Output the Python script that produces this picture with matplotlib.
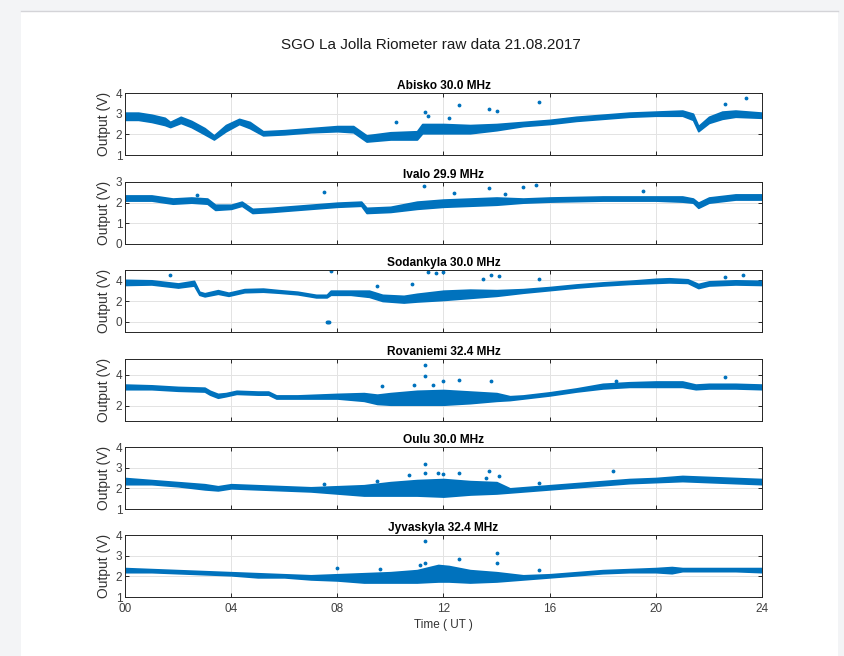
import matplotlib
matplotlib.use('agg')
import matplotlib.pyplot as plt
from matplotlib.patches import Rectangle
from matplotlib.lines import Line2D

plt.rcParams['font.family'] = ['Liberation Sans', 'DejaVu Sans']

BLUE = '#0072BD'

# station names / ylims / yticks
stations = ['Abisko 30.0 MHz', 'Ivalo 29.9 MHz', 'Sodankyla 30.0 MHz',
            'Rovaniemi 32.4 MHz', 'Oulu 30.0 MHz', 'Jyvaskyla 32.4 MHz']
ylims = [(1, 4), (0, 3), (-1, 5), (1, 5), (1, 4), (1, 4)]
yticks = [[1, 2, 3, 4], [0, 1, 2, 3], [0, 2, 4], [2, 4], [1, 2, 3, 4], [1, 2, 3, 4]]
xtick_hours = [0, 4, 8, 12, 16, 20, 24]
xtick_labels = ['00', '04', '08', '12', '16', '20', '24']

# envelope of the raw data (time in UT hours, lower / upper output in V)
abisko_t = [0, 0.5, 1, 1.5, 1.7, 2.1, 2.5, 3.0, 3.35, 3.8, 4.3, 4.7, 5.2, 6, 7, 8, 8.6, 9.1,
            10, 11, 11.2, 12, 13, 14, 15, 16, 17, 18, 19, 20, 21, 21.4, 21.6, 22, 22.5, 23, 24]
abisko_lo = [2.7, 2.7, 2.6, 2.45, 2.35, 2.55, 2.35, 2.0, 1.75, 2.15, 2.5, 2.3, 1.95, 2.0, 2.1, 2.15,
             2.1, 1.65, 1.75, 1.75, 2.05, 2.05, 2.05, 2.2, 2.4, 2.5, 2.65, 2.75, 2.85, 2.9, 2.9,
             2.7, 2.15, 2.55, 2.75, 2.85, 2.8]
abisko_hi = [3.05, 3.05, 2.95, 2.8, 2.6, 2.85, 2.65, 2.3, 1.95, 2.45, 2.75, 2.6, 2.15, 2.2, 2.3, 2.4,
             2.4, 1.95, 2.1, 2.15, 2.5, 2.5, 2.45, 2.5, 2.6, 2.7, 2.85, 2.95, 3.05, 3.1, 3.15,
             3.0, 2.4, 2.85, 3.1, 3.15, 3.05]

ivalo_t = [0, 1, 1.8, 2.5, 3.1, 3.4, 4, 4.4, 4.8, 5.5, 6.5, 8, 8.9, 9.1, 10, 11, 12, 13, 14,
           15, 16, 18, 20, 21, 21.4, 21.6, 22, 23, 24]
ivalo_lo = [2.1, 2.1, 1.95, 2.0, 1.95, 1.65, 1.7, 1.85, 1.5, 1.55, 1.65, 1.8, 1.85, 1.5, 1.55,
            1.7, 1.8, 1.85, 1.9, 2.0, 2.05, 2.1, 2.1, 2.05, 2.0, 1.75, 2.0, 2.15, 2.15]
ivalo_hi = [2.35, 2.35, 2.2, 2.25, 2.2, 1.9, 1.9, 2.05, 1.7, 1.75, 1.85, 2.0, 2.05, 1.75, 1.8,
            2.05, 2.15, 2.2, 2.25, 2.2, 2.25, 2.3, 2.3, 2.3, 2.2, 2.0, 2.25, 2.4, 2.4]

sodankyla_t = [0, 1, 2, 2.6, 2.8, 3.0, 3.5, 3.9, 4.5, 5.2, 5.8, 6.5, 7.2, 7.6, 7.75, 8.5, 9.2,
               9.7, 10.5, 11, 12, 13, 14, 15, 16, 17, 18, 19, 20, 20.5, 21.2, 21.6, 22, 23, 24]
sodankyla_lo = [3.55, 3.6, 3.3, 3.5, 2.6, 2.45, 2.7, 2.5, 2.85, 2.9, 2.8, 2.65, 2.35, 2.35, 2.6,
                2.6, 2.4, 2.0, 1.85, 1.95, 2.1, 2.3, 2.5, 2.8, 3.05, 3.3, 3.5, 3.65, 3.75, 3.8,
                3.75, 3.25, 3.5, 3.6, 3.55]
sodankyla_hi = [4.05, 4.0, 3.7, 3.95, 2.9, 2.75, 3.05, 2.8, 3.15, 3.2, 3.05, 2.9, 2.6, 2.6, 3.0,
                3.0, 3.0, 2.6, 2.5, 2.7, 3.0, 3.1, 3.05, 3.15, 3.35, 3.6, 3.8, 3.95, 4.15, 4.2,
                4.1, 3.65, 3.9, 4.0, 3.95]

rovaniemi_t = [0, 1, 2, 3, 3.2, 3.5, 3.8, 4.2, 5, 5.4, 5.7, 6.5, 8, 9, 9.5, 10, 11, 12, 13, 14,
               14.5, 15, 16, 17, 18, 19, 20, 21, 21.5, 22, 23, 24]
rovaniemi_lo = [3.05, 3.05, 2.95, 2.9, 2.7, 2.5, 2.6, 2.75, 2.7, 2.7, 2.45, 2.45, 2.45, 2.3, 2.1,
                2.05, 2.05, 2.05, 2.15, 2.3, 2.35, 2.45, 2.65, 2.9, 3.1, 3.2, 3.2, 3.2, 3.05,
                3.1, 3.1, 3.05]
rovaniemi_hi = [3.35, 3.3, 3.2, 3.15, 2.95, 2.75, 2.8, 2.95, 2.9, 2.9, 2.65, 2.65, 2.75, 2.8, 2.7,
                2.8, 2.95, 3.0, 2.9, 2.8, 2.6, 2.65, 2.85, 3.1, 3.4, 3.5, 3.55, 3.55, 3.35,
                3.4, 3.4, 3.35]

oulu_t = [0, 1, 2, 3, 3.5, 4, 5, 6, 7, 8, 9, 10, 11, 12, 13, 14, 14.5, 15, 16, 17, 18, 19, 20,
          21, 22, 23, 24]
oulu_lo = [2.2, 2.2, 2.1, 1.95, 1.9, 2.0, 1.95, 1.9, 1.85, 1.75, 1.65, 1.65, 1.65, 1.6, 1.7,
           1.75, 1.8, 1.85, 1.95, 2.05, 2.15, 2.25, 2.3, 2.35, 2.3, 2.25, 2.2]
oulu_hi = [2.5, 2.4, 2.3, 2.2, 2.1, 2.2, 2.15, 2.1, 2.05, 2.1, 2.15, 2.3, 2.4, 2.45, 2.35, 2.3,
           2.0, 2.05, 2.15, 2.25, 2.35, 2.45, 2.5, 2.6, 2.55, 2.5, 2.45]

jyvaskyla_t = [0, 1, 2, 3, 4, 5, 6, 7, 8, 9, 10, 11, 11.8, 12.2, 13, 14, 15, 16, 17, 18, 19,
               20, 20.6, 21, 22, 23, 24]
jyvaskyla_lo = [2.2, 2.2, 2.15, 2.1, 2.05, 1.95, 1.95, 1.85, 1.8, 1.7, 1.7, 1.7, 1.75, 1.75,
                1.7, 1.75, 1.85, 1.95, 2.05, 2.15, 2.2, 2.2, 2.15, 2.25, 2.25, 2.25, 2.2]
jyvaskyla_hi = [2.4, 2.35, 2.3, 2.25, 2.2, 2.15, 2.1, 2.05, 2.1, 2.15, 2.2, 2.3, 2.55, 2.5,
                2.3, 2.2, 2.05, 2.1, 2.2, 2.3, 2.35, 2.4, 2.45, 2.4, 2.4, 2.4, 2.4]

# isolated spikes (time, value)
abisko_sp_t = [11.3, 11.4, 12.6, 13.7, 14.0, 15.6, 22.6, 23.4, 10.2, 12.2]
abisko_sp_v = [3.1, 2.9, 3.4, 3.25, 3.15, 3.55, 3.45, 3.75, 2.6, 2.8]
ivalo_sp_t = [2.7, 7.5, 11.25, 13.7, 15.0, 15.5, 19.5, 12.4, 14.3]
ivalo_sp_v = [2.35, 2.5, 2.8, 2.7, 2.75, 2.85, 2.55, 2.45, 2.4]
sodankyla_sp_t = [1.7, 7.75, 11.4, 11.7, 12.0, 13.5, 13.8, 14.1, 15.6, 22.6, 23.3,
                  7.6, 7.65, 7.7, 9.5, 10.8]
sodankyla_sp_v = [4.5, 4.9, 4.85, 4.7, 4.8, 4.1, 4.5, 4.4, 4.1, 4.3, 4.5,
                  0.0, 0.0, 0.0, 3.5, 3.6]
rovaniemi_sp_t = [9.7, 10.9, 11.3, 11.3, 12.0, 12.6, 13.8, 18.5, 22.6, 11.6]
rovaniemi_sp_v = [3.25, 3.3, 4.6, 3.9, 3.55, 3.65, 3.55, 3.6, 3.85, 3.35]
oulu_sp_t = [7.5, 9.5, 10.7, 11.3, 11.3, 11.8, 12.0, 12.6, 13.6, 13.7, 14.1, 15.6, 18.4]
oulu_sp_v = [2.2, 2.35, 2.65, 3.2, 2.75, 2.75, 2.7, 2.75, 2.5, 2.85, 2.6, 2.25, 2.85]
jyvaskyla_sp_t = [8.0, 11.1, 11.3, 11.3, 12.6, 14.0, 14.0, 15.6, 9.6]
jyvaskyla_sp_v = [2.4, 2.55, 3.7, 2.65, 2.85, 3.15, 2.65, 2.3, 2.35]

data = [
    (abisko_t, abisko_lo, abisko_hi, abisko_sp_t, abisko_sp_v),
    (ivalo_t, ivalo_lo, ivalo_hi, ivalo_sp_t, ivalo_sp_v),
    (sodankyla_t, sodankyla_lo, sodankyla_hi, sodankyla_sp_t, sodankyla_sp_v),
    (rovaniemi_t, rovaniemi_lo, rovaniemi_hi, rovaniemi_sp_t, rovaniemi_sp_v),
    (oulu_t, oulu_lo, oulu_hi, oulu_sp_t, oulu_sp_v),
    (jyvaskyla_t, jyvaskyla_lo, jyvaskyla_hi, jyvaskyla_sp_t, jyvaskyla_sp_v),
]

W, H = 845, 656
fig = plt.figure(figsize=(W / 100, H / 100), dpi=100, facecolor='#f3f4f6')

# white page on light grey background (drawn under the axes)
fig.patches.append(Rectangle((21 / W, 0), (838 - 21) / W, 1 - 11 / H, transform=fig.transFigure,
                             facecolor='white', edgecolor='none', zorder=-10))
fig.lines.append(Line2D([21 / W, 838 / W], [1 - 11 / H, 1 - 11 / H], transform=fig.transFigure,
                        color='#d4d4d8', lw=1, zorder=-9))

tops = [93, 182, 270, 359, 447, 535]
ax_h = 62
left, right = 125, 762

for i, (name, (t, lo, hi, sp_t, sp_v)) in enumerate(zip(stations, data)):
    ax = fig.add_axes([left / W, 1 - (tops[i] + ax_h) / H, (right - left) / W, ax_h / H])
    ax.set_facecolor('white')
    ax.fill_between(t, lo, hi, color=BLUE, lw=1.2, edgecolor=BLUE)
    ax.plot(sp_t, sp_v, ls='none', marker='.', ms=3.5, color=BLUE)

    ax.set_xlim(0, 24)
    ax.set_ylim(*ylims[i])
    ax.set_yticks(yticks[i])
    ax.set_xticks(xtick_hours)
    if i == len(stations) - 1:
        ax.set_xticklabels(xtick_labels)
        ax.set_xlabel('Time ( UT )', fontsize=8.5, color='#333333', labelpad=3)
        ax.tick_params(axis='x', pad=4)
    else:
        ax.set_xticklabels([])
    ax.set_ylabel('Output (V)', fontsize=10, color='#333333', labelpad=3)
    ax.set_title(name, fontsize=8.6, fontweight='bold', pad=3)

    ax.grid(True, color='#e3e3e3', lw=0.7)
    ax.set_axisbelow(True)
    ax.tick_params(direction='in', top=True, right=True, length=3, width=0.7,
                   labelsize=8.5, colors='#262626', labelcolor='#404040')
    ax.tick_params(axis='y', pad=2)
    for s in ax.spines.values():
        s.set_color('#262626')
        s.set_linewidth(0.7)

fig.text(431 / W, 1 - 45 / H, 'SGO La Jolla Riometer raw data 21.08.2017', fontsize=11,
         ha='center', va='center', color='#1a1a1a')

fig.savefig('out.png', dpi=100, facecolor=fig.get_facecolor())
